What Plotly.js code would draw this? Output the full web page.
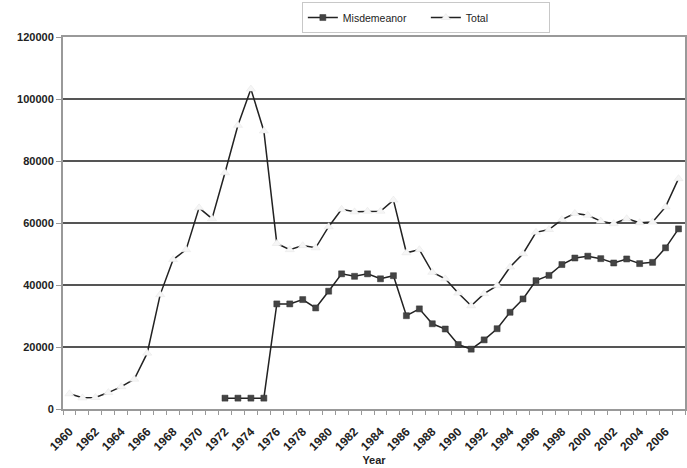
<!DOCTYPE html>
<html>
<head>
<meta charset="utf-8">
<script src="https://cdn.plot.ly/plotly-3.0.1.min.js"></script>
<style>html,body{margin:0;padding:0;background:#fff;}#chart{width:687px;height:468px;}</style>
</head>
<body>
<div id="chart"></div>
<script>
const years = [];
for (let y = 1960; y <= 2007; y++) years.push(y);

const totalValues = [4900, 3600, 3700, 5300, 7200, 9600, 18000, 36900, 48200, 51400,
  64900, 61400, 76200, 91500, 103200, 89700, 53400, 51400, 52700, 52000,
  58800, 64400, 63600, 63800, 63800, 67400, 50400, 51400, 44100, 42000,
  37400, 33300, 37200, 39800, 45800, 50100, 57000, 57900, 61100, 63100,
  62500, 60600, 59800, 61400, 60100, 60300, 65200, 74300];

const misdemeanorYears = [1972,1973,1974,1975,1976,1977,1978,1979,1980,1981,1982,1983,1984,1985,
  1986,1987,1988,1989,1990,1991,1992,1993,1994,1995,1996,1997,1998,1999,2000,2001,2002,2003,2004,2005,2006,2007];
const misdemeanorValues = [3500, 3500, 3500, 3500, 33900, 33900, 35300, 32600, 38000, 43600,
  42800, 43600, 42000, 43000, 30100, 32300, 27500, 25800, 20800, 19300,
  22300, 25900, 31200, 35500, 41400, 43100, 46600, 48700, 49300, 48500,
  47100, 48400, 46900, 47300, 52000, 58100];

const tickYears = [];
for (let y = 1960; y <= 2006; y += 2) tickYears.push(y);
const yTicks = [0, 20000, 40000, 60000, 80000, 100000, 120000];

const font = "Liberation Sans, Arial, sans-serif";

const traces = [
  {
    x: misdemeanorYears, y: misdemeanorValues, name: "Misdemeanor", type: "scatter", mode: "lines+markers",
    line: {color: "#222", width: 1.5},
    marker: {symbol: "square", size: 6, color: "#444", line: {color: "#333", width: 0.5}}
  },
  {
    x: years, y: totalValues, name: "Total", type: "scatter", mode: "lines+markers",
    line: {color: "#222", width: 1.5},
    marker: {symbol: "triangle-up", size: 8, color: "#f6f6f6", line: {color: "#e4e4e4", width: 0.5}}
  }
];

const layout = {
  width: 687, height: 468,
  margin: {l: 63, r: 2, t: 37, b: 59},
  paper_bgcolor: "#fff", plot_bgcolor: "#fff",
  font: {family: font, color: "#222"},
  showlegend: true,
  legend: {
    orientation: "h", x: 0.384, xanchor: "left", y: 1.094, yanchor: "top",
    bordercolor: "#c8c8c8", borderwidth: 1, bgcolor: "#fff",
    font: {size: 10.5, family: font, color: "#222"},
    traceorder: "normal", entrywidth: 78, itemwidth: 30
  },
  xaxis: {
    type: "linear", range: [1959.5, 2007.5],
    tickmode: "array", tickvals: tickYears, ticktext: tickYears.map(String),
    tickangle: -45, ticks: "", showgrid: false, zeroline: false,
    ticklabelstandoff: 9,
    tickfont: {size: 12, family: font, color: "#222", weight: "bold"},
    showline: true, linecolor: "#999", linewidth: 2, mirror: true,
    minor: {tick0: 1959.5, dtick: 1, ticks: "outside", ticklen: 4, tickcolor: "#999", showgrid: false},
    title: {text: "Year", font: {size: 11, family: font, color: "#222", weight: "bold"}, standoff: 4}
  },
  yaxis: {
    range: [0, 120000], tickmode: "array", tickvals: yTicks, ticktext: yTicks.map(String),
    showgrid: true, gridcolor: "#555", gridwidth: 2, zeroline: false,
    ticks: "outside", ticklen: 5, tickcolor: "#999",
    tickfont: {size: 11, family: font, color: "#222", weight: "bold"},
    showline: true, linecolor: "#999", linewidth: 2, mirror: true
  }
};

Plotly.newPlot("chart", traces, layout, {displayModeBar: false, staticPlot: true});
</script>
</body>
</html>
